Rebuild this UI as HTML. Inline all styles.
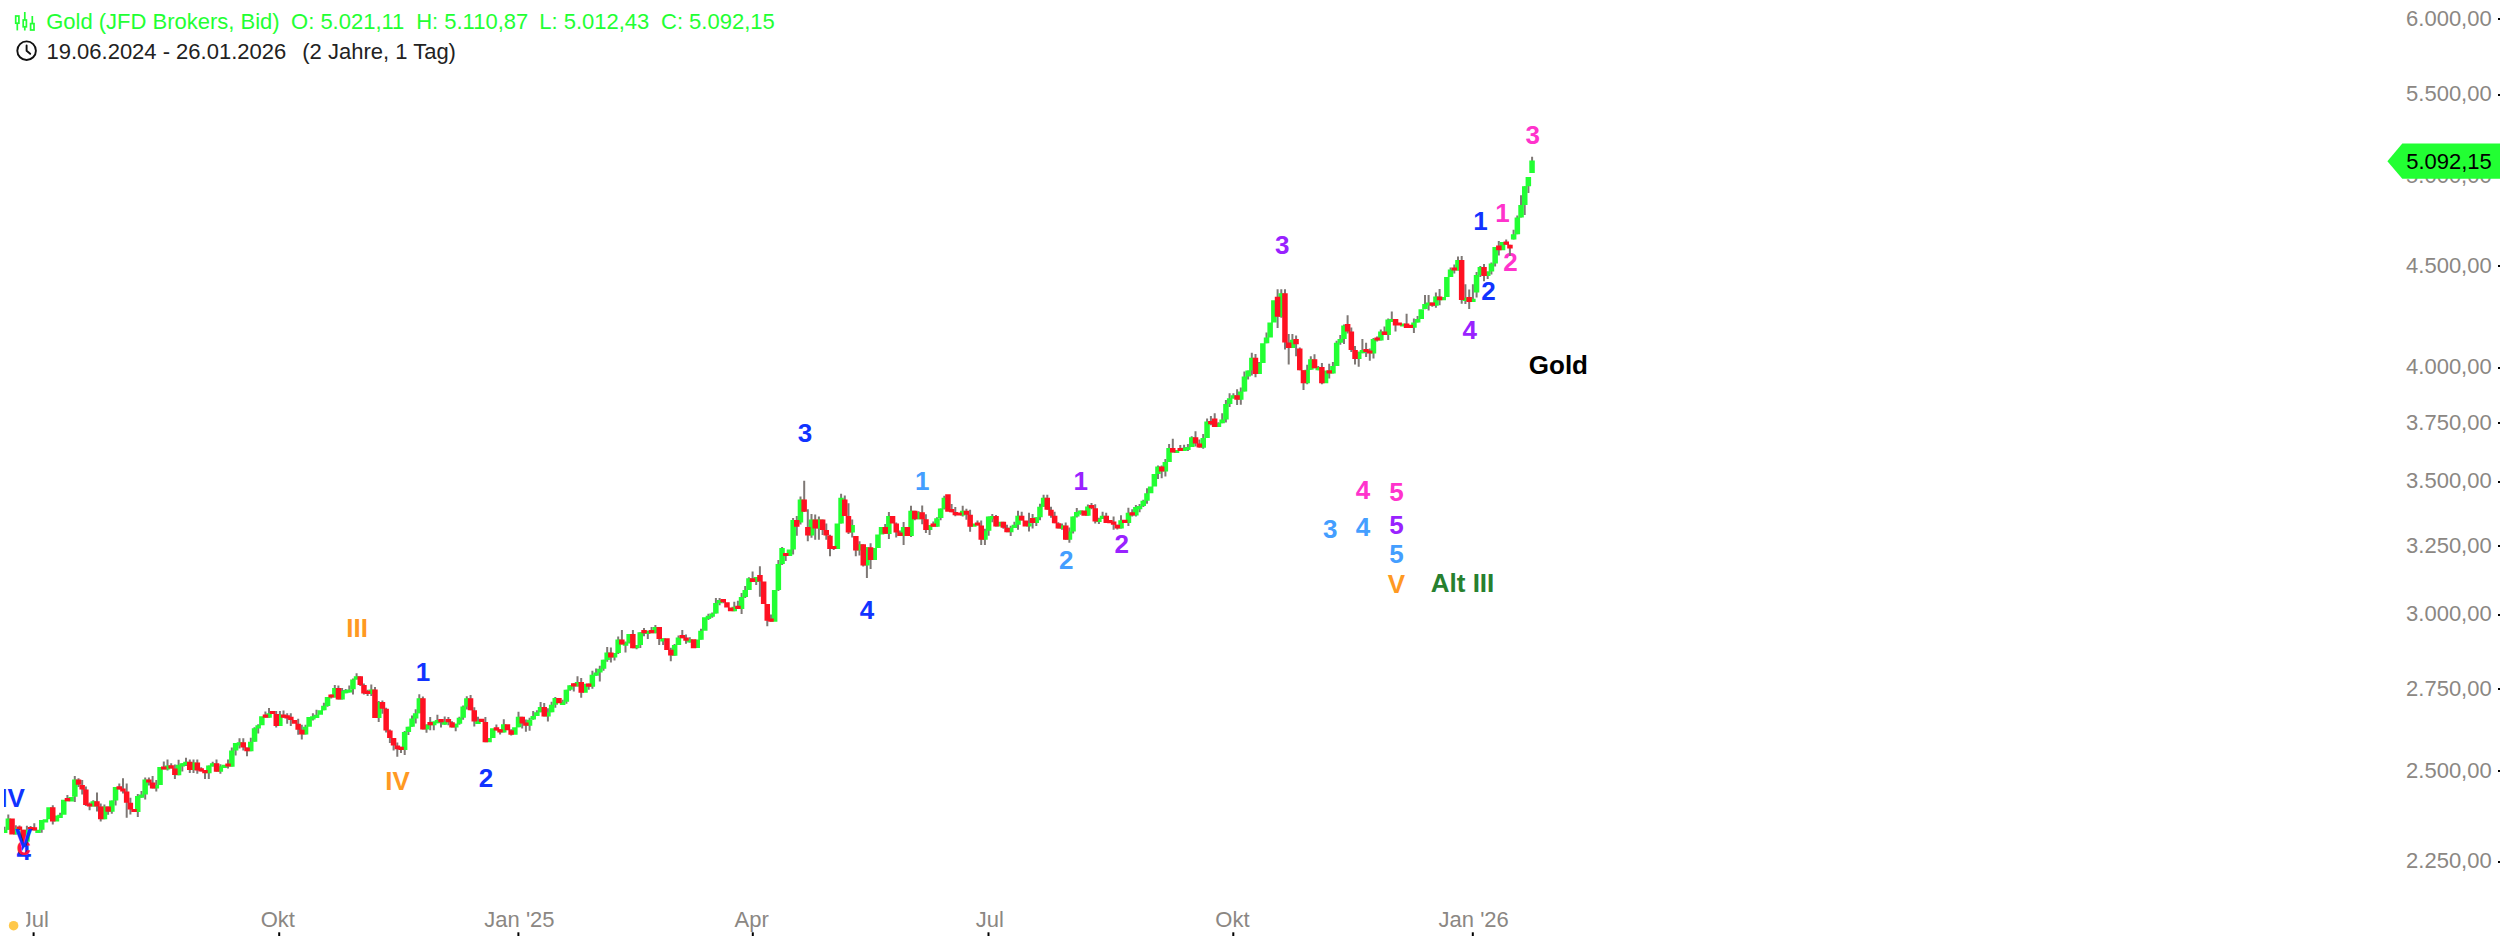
<!DOCTYPE html>
<html lang="de"><head><meta charset="utf-8"><title>Gold (JFD Brokers, Bid)</title>
<style>html,body{margin:0;padding:0;background:#fff}body{width:2500px;height:936px}svg{display:block}text{white-space:pre}</style></head>
<body><svg width="2500" height="936" viewBox="0 0 2500 936">
<defs><clipPath id="cl"><rect x="4" y="0" width="2496" height="936"/></clipPath></defs>
<rect width="2500" height="936" fill="#fff"/>
<g font-family="'Liberation Sans', Arial, Helvetica, sans-serif" font-size="26" font-weight="bold" text-anchor="middle" clip-path="url(#cl)"><text x="1510.45" y="270.75" fill="#ff33cc">2</text></g>
<g clip-path="url(#cl)"><path d="M4.6 826.8V833.0M8.3 814.5V829.8M15.8 825.3V834.6M19.5 825.6V829.8M23.2 829.8V844.7M26.9 825.8V841.7M30.6 825.9V830.1M34.3 823.3V830.5M41.7 820.0V832.8M52.8 805.3V824.5M60.1 812.8V818.0M67.4 795.1V801.3M74.8 775.9V801.9M78.5 778.2V786.9M82.2 779.9V794.4M85.9 786.4V806.1M89.6 802.4V810.3M93.3 800.3V806.6M97.0 792.4V811.6M100.7 803.6V821.5M104.4 804.6V819.3M108.1 806.6V814.8M111.8 800.6V813.8M115.6 787.1V805.6M119.3 783.4V789.4M123.0 778.2V793.6M126.7 783.4V817.8M130.4 797.8V814.6M137.8 794.1V817.1M141.5 790.9V797.8M145.2 777.6V799.6M148.9 777.4V785.6M152.6 775.9V788.6M156.3 779.9V791.6M163.8 761.4V769.6M167.5 759.4V770.6M171.2 763.2V768.4M174.9 764.4V778.9M178.6 759.7V775.2M182.3 763.2V771.4M186.0 757.7V765.9M189.8 759.4V772.9M193.5 759.4V772.9M197.3 759.4V773.7M201.2 767.2V771.4M205.0 770.0V778.9M208.8 765.4V778.9M212.7 761.7V766.4M216.5 759.4V771.7M220.4 764.2V773.7M228.0 759.4V768.6M231.8 747.5V766.6M235.6 743.0V755.5M239.5 738.2V748.4M243.3 738.2V750.5M247.0 747.5V756.2M250.8 737.7V751.2M254.5 727.3V741.7M258.2 724.3V733.5M265.4 711.6V717.8M269.0 708.1V717.8M276.2 711.1V727.5M279.9 711.1V726.0M283.5 710.6V717.8M287.2 713.3V723.8M290.8 713.3V726.0M298.2 718.8V734.8M301.8 724.8V739.6M305.5 724.8V734.6M312.9 713.3V720.5M316.5 709.8V718.0M323.9 702.8V710.3M327.5 696.9V706.8M331.2 694.4V698.6M334.8 684.9V697.6M338.4 685.6V699.5M342.1 687.9V699.5M345.7 689.1V693.3M349.3 685.4V692.6M353.0 678.6V694.4M356.6 673.2V679.6M360.3 676.2V685.9M363.9 683.4V694.6M367.6 689.7V695.9M371.3 684.4V695.9M375.0 687.1V718.1M378.7 701.1V722.0M382.4 700.6V713.8M386.1 707.8V732.5M389.9 729.5V743.0M393.6 738.0V750.5M397.3 742.5V756.7M401.0 746.8V753.0M404.7 731.0V755.0M408.4 726.8V735.0M412.0 715.5V726.8M415.7 709.3V723.5M419.3 694.3V713.3M422.9 696.6V729.5M426.5 724.5V732.8M430.2 717.0V730.3M433.8 721.5V730.3M437.4 714.8V723.2M441.0 719.1V727.5M444.7 716.6V724.7M448.4 717.0V725.3M452.0 721.3V727.5M455.7 723.8V731.3M459.4 716.8V724.8M463.1 705.6V719.8M466.8 696.3V709.6M470.6 695.1V710.3M474.3 707.3V726.5M478.0 716.8V724.0M485.4 717.0V742.2M496.4 724.5V730.5M500.1 729.2V734.4M503.8 719.2V732.4M511.2 729.2V735.6M518.5 711.7V727.2M522.2 716.7V728.4M525.9 719.5V731.7M529.6 717.7V730.7M533.2 710.9V719.7M536.9 710.2V715.9M540.6 702.0V712.2M544.2 703.0V716.4M547.9 708.2V721.4M551.6 701.7V712.2M555.3 697.0V707.7M562.7 699.7V704.9M566.4 689.8V703.7M570.1 685.3V690.8M573.8 683.3V691.5M577.5 676.3V686.5M581.2 678.0V697.8M588.7 683.6V689.8M592.4 670.8V688.8M596.1 668.6V675.8M599.8 665.8V681.5M603.5 659.8V670.8M607.2 647.1V661.8M610.9 647.4V662.6M614.5 653.1V660.6M618.2 636.6V654.1M621.9 629.9V644.6M625.5 641.6V652.4M629.2 634.1V643.6M632.9 629.9V648.2M636.6 644.9V649.2M640.3 632.2V647.9M644.0 628.0V636.2M647.8 630.7V638.9M651.6 627.0V633.2M655.4 624.9V633.2M659.2 626.9V644.9M663.1 638.2V644.9M670.8 647.8V661.3M674.6 643.9V655.7M678.5 635.4V644.9M682.3 630.0V638.2M686.0 634.5V643.7M689.8 637.2V642.4M701.0 628.7V639.6M708.4 613.7V619.9M712.2 612.5V617.7M715.9 598.0V613.5M719.6 598.0V605.2M723.3 599.0V603.2M734.3 601.7V611.2M737.9 600.8V609.0M741.6 593.1V614.0M745.2 586.0V598.1M748.9 577.3V590.0M752.6 571.5V581.9M756.2 577.0V584.9M759.9 566.2V596.7M767.3 604.1V626.3M771.0 614.5V621.7M778.4 559.9V591.0M782.1 547.1V564.9M785.7 553.0V561.0M793.1 518.1V554.6M796.8 515.9V535.7M800.5 496.4V524.6M804.2 480.7V511.9M807.8 509.2V541.3M811.5 514.0V537.7M815.2 514.4V539.8M818.9 516.6V539.8M822.6 519.6V535.1M826.3 523.4V539.8M830.0 534.7V556.3M833.7 545.9V550.1M841.1 493.7V523.4M844.8 495.4V515.9M848.5 503.2V533.9M852.2 519.6V537.6M855.8 536.1V556.3M859.5 541.3V555.6M863.2 544.3V566.6M866.9 547.3V578.0M870.6 543.3V569.0M885.2 524.1V533.9M888.9 511.9V538.9M896.2 522.4V537.4M899.9 530.4V536.1M903.6 522.1V545.1M911.0 505.7V537.1M914.8 510.7V520.2M918.5 511.2V519.2M922.2 505.4V524.2M925.9 514.2V533.1M929.6 524.9V535.1M933.3 521.5V526.7M937.0 517.2V526.7M940.6 508.4V520.2M944.3 495.7V509.4M951.6 504.0V512.2M955.3 507.0V516.2M962.7 505.7V516.6M966.4 508.7V519.7M970.1 509.7V531.7M977.5 520.4V525.6M981.2 520.6V544.9M984.9 528.7V544.9M988.6 516.5V535.7M992.3 514.1V522.3M996.0 515.1V526.5M1003.4 521.7V528.7M1007.0 524.7V532.2M1010.7 525.7V535.9M1014.4 521.7V527.9M1018.0 510.8V529.7M1021.7 511.8V520.5M1029.0 512.8V531.5M1032.6 514.0V528.5M1036.3 517.2V525.9M1040.0 503.8V520.2M1043.6 494.8V506.8M1047.3 494.8V509.8M1051.0 506.8V517.8M1054.6 511.8V523.2M1058.3 522.2V528.5M1062.0 523.5V529.7M1065.7 522.5V539.7M1069.4 527.5V542.7M1073.1 516.5V533.5M1076.8 508.0V517.5M1080.5 510.5V514.7M1087.9 504.5V515.8M1091.5 503.0V509.3M1095.2 504.3V523.4M1098.9 517.7V523.9M1102.6 511.8V519.0M1106.2 512.8V522.9M1113.6 516.5V529.7M1117.3 524.7V529.5M1121.0 515.2V528.5M1128.4 507.8V525.9M1132.2 509.3V516.5M1135.9 505.1V516.5M1139.6 504.0V512.2M1143.3 499.8V507.0M1147.0 488.3V503.8M1158.0 465.4V478.9M1161.7 465.4V478.3M1165.4 458.9V476.6M1169.1 444.1V461.9M1172.8 438.7V452.6M1180.3 444.9V451.1M1184.1 444.7V451.1M1187.9 443.9V451.1M1191.7 436.2V446.9M1195.5 431.2V446.6M1199.4 439.6V447.7M1203.2 434.0V448.7M1207.1 418.5V438.0M1210.9 416.1V425.3M1214.7 413.2V427.1M1218.4 422.3V427.1M1222.2 413.2V423.3M1225.9 399.9V422.4M1229.6 393.2V406.9M1233.4 393.2V398.4M1237.1 389.2V404.9M1240.8 387.5V404.7M1244.4 371.5V391.5M1248.1 370.5V379.5M1251.8 352.8V375.5M1255.5 354.1V377.2M1259.1 362.0V374.0M1266.5 332.6V343.3M1277.6 289.3V327.9M1281.3 289.3V317.7M1285.0 289.3V349.6M1288.7 333.9V364.5M1292.4 333.9V348.1M1296.1 335.4V356.3M1299.8 347.5V370.2M1303.5 370.2V390.0M1307.2 364.8V384.2M1310.8 356.3V369.8M1314.5 354.3V368.3M1318.2 366.1V370.3M1321.9 363.1V384.2M1329.2 363.8V378.5M1332.9 362.0V373.5M1336.6 340.8V366.0M1340.3 335.1V344.8M1344.0 324.6V344.1M1347.6 315.2V333.6M1351.3 327.6V352.0M1355.0 346.0V364.5M1358.7 351.8V366.8M1362.4 339.1V353.2M1366.1 342.8V357.0M1369.8 348.4V360.8M1373.5 338.1V358.6M1377.1 336.4V341.6M1380.8 329.6V340.6M1384.5 326.6V335.1M1388.2 318.6V340.1M1391.8 311.4V322.1M1395.5 318.9V331.6M1406.6 313.7V327.9M1413.9 318.6V332.9M1417.6 315.9V322.6M1425.0 295.0V309.2M1428.6 295.0V310.6M1432.3 302.4V306.7M1435.9 292.5V307.7M1439.6 289.0V305.2M1450.6 267.4V276.9M1454.3 264.4V273.6M1458.0 256.4V270.6M1461.7 256.1V303.8M1465.4 284.3V304.0M1469.2 289.6V309.0M1472.9 284.3V302.0M1476.6 272.1V297.6M1480.3 266.1V277.1M1484.0 264.1V281.3M1487.7 271.6V279.1M1491.4 262.4V274.6M1495.1 246.9V266.4M1498.8 240.9V255.4M1506.2 239.5V244.7M1509.9 244.7V255.9M1513.6 229.7V239.4M1517.3 215.5V234.2M1521.0 195.3V217.4M1524.7 186.3V215.0M1528.4 177.0V193.0M1532.1 156.7V172.8" stroke="#7e7875" stroke-width="2" fill="none"/><path d="M1.9 829.8h5.5v3.2h-5.5zM5.6 818.5h5.5v11.2h-5.5zM13.0 828.3h5.5v6.3h-5.5zM24.2 829.8h5.5v12.0h-5.5zM35.3 829.8h5.5v3.2h-5.5zM39.0 820.0h5.5v9.7h-5.5zM42.7 819.3h5.5v3.2h-5.5zM46.3 807.3h5.5v12.0h-5.5zM53.7 815.6h5.5v6.0h-5.5zM57.3 814.8h5.5v3.2h-5.5zM61.0 799.8h5.5v15.0h-5.5zM68.4 796.9h5.5v4.5h-5.5zM72.1 779.6h5.5v17.2h-5.5zM90.5 801.3h5.5v5.2h-5.5zM101.7 806.6h5.5v12.7h-5.5zM109.1 800.6h5.5v11.2h-5.5zM112.8 787.1h5.5v13.5h-5.5zM135.0 796.1h5.5v16.0h-5.5zM138.7 794.6h5.5v3.2h-5.5zM142.4 779.6h5.5v15.0h-5.5zM153.6 784.9h5.5v3.7h-5.5zM157.3 766.9h5.5v18.0h-5.5zM164.7 765.4h5.5v4.2h-5.5zM175.8 764.7h5.5v10.5h-5.5zM179.5 763.2h5.5v3.2h-5.5zM183.2 761.7h5.5v3.2h-5.5zM190.8 762.4h5.5v7.5h-5.5zM206.1 765.4h5.5v7.8h-5.5zM209.9 763.2h5.5v3.2h-5.5zM217.6 766.2h5.5v5.5h-5.5zM221.4 764.7h5.5v3.2h-5.5zM229.1 750.5h5.5v16.2h-5.5zM232.9 743.0h5.5v7.5h-5.5zM236.7 742.2h5.5v3.2h-5.5zM248.0 741.7h5.5v9.5h-5.5zM251.8 728.3h5.5v13.5h-5.5zM255.4 725.3h5.5v3.2h-5.5zM259.1 716.3h5.5v9.0h-5.5zM266.3 713.3h5.5v4.5h-5.5zM277.1 714.8h5.5v11.2h-5.5zM302.8 726.8h5.5v7.8h-5.5zM306.4 717.0h5.5v9.7h-5.5zM310.1 716.3h5.5v3.2h-5.5zM313.8 714.8h5.5v3.2h-5.5zM317.5 710.3h5.5v4.5h-5.5zM321.1 705.8h5.5v4.5h-5.5zM324.8 696.9h5.5v9.0h-5.5zM332.1 687.9h5.5v9.7h-5.5zM339.3 690.9h5.5v8.7h-5.5zM342.9 690.1h5.5v3.2h-5.5zM346.6 689.4h5.5v3.2h-5.5zM350.2 679.6h5.5v9.7h-5.5zM353.8 676.2h5.5v3.4h-5.5zM368.5 689.4h5.5v4.5h-5.5zM376.0 702.1h5.5v16.0h-5.5zM401.9 732.0h5.5v18.0h-5.5zM405.6 726.8h5.5v5.2h-5.5zM409.3 718.5h5.5v8.2h-5.5zM412.9 713.3h5.5v5.2h-5.5zM416.6 698.3h5.5v15.0h-5.5zM423.8 724.5h5.5v4.9h-5.5zM431.0 721.5h5.5v3.7h-5.5zM434.7 720.0h5.5v3.2h-5.5zM441.9 721.5h5.5v3.2h-5.5zM453.0 723.8h5.5v3.7h-5.5zM456.7 717.8h5.5v6.0h-5.5zM460.4 706.6h5.5v11.2h-5.5zM464.1 698.3h5.5v8.2h-5.5zM475.2 720.8h5.5v3.2h-5.5zM486.3 738.0h5.5v4.2h-5.5zM490.0 728.3h5.5v9.7h-5.5zM501.0 724.2h5.5v8.2h-5.5zM512.1 727.2h5.5v7.5h-5.5zM515.8 716.7h5.5v10.5h-5.5zM526.8 719.7h5.5v6.0h-5.5zM530.5 715.9h5.5v3.7h-5.5zM534.1 712.2h5.5v3.7h-5.5zM537.8 707.0h5.5v5.2h-5.5zM545.2 712.2h5.5v4.2h-5.5zM548.9 704.7h5.5v7.5h-5.5zM552.5 698.0h5.5v6.7h-5.5zM559.9 701.7h5.5v3.2h-5.5zM563.6 689.8h5.5v12.0h-5.5zM567.3 685.3h5.5v4.5h-5.5zM574.8 682.0h5.5v4.5h-5.5zM582.2 683.8h5.5v9.0h-5.5zM589.6 674.8h5.5v12.0h-5.5zM593.4 672.6h5.5v3.2h-5.5zM597.1 668.8h5.5v3.7h-5.5zM600.8 659.8h5.5v9.0h-5.5zM604.4 652.4h5.5v7.5h-5.5zM611.8 653.1h5.5v4.5h-5.5zM615.4 639.6h5.5v13.5h-5.5zM622.8 642.6h5.5v3.2h-5.5zM626.4 634.1h5.5v8.5h-5.5zM633.8 644.9h5.5v3.3h-5.5zM637.5 632.2h5.5v12.7h-5.5zM645.0 630.7h5.5v3.2h-5.5zM652.6 626.9h5.5v6.3h-5.5zM660.3 638.2h5.5v3.2h-5.5zM671.9 644.9h5.5v10.8h-5.5zM675.7 637.4h5.5v7.5h-5.5zM687.1 639.2h5.5v3.2h-5.5zM694.5 639.6h5.5v8.5h-5.5zM698.2 630.7h5.5v9.0h-5.5zM702.0 617.2h5.5v13.5h-5.5zM705.7 615.7h5.5v3.2h-5.5zM709.4 613.5h5.5v3.2h-5.5zM713.1 603.0h5.5v10.5h-5.5zM716.8 600.0h5.5v3.2h-5.5zM731.5 606.7h5.5v4.5h-5.5zM738.8 597.1h5.5v11.9h-5.5zM742.5 590.0h5.5v7.1h-5.5zM746.2 578.3h5.5v11.7h-5.5zM753.5 577.0h5.5v4.9h-5.5zM771.9 590.0h5.5v31.7h-5.5zM775.6 563.9h5.5v26.1h-5.5zM779.3 548.1h5.5v15.8h-5.5zM786.7 549.6h5.5v6.4h-5.5zM790.4 520.1h5.5v29.5h-5.5zM797.7 499.4h5.5v23.2h-5.5zM808.8 519.6h5.5v16.0h-5.5zM816.2 519.6h5.5v9.0h-5.5zM834.6 523.4h5.5v25.7h-5.5zM838.3 497.7h5.5v25.7h-5.5zM849.4 524.9h5.5v7.5h-5.5zM856.8 544.3h5.5v6.3h-5.5zM864.1 547.3h5.5v18.3h-5.5zM871.5 548.1h5.5v12.0h-5.5zM875.2 534.6h5.5v13.5h-5.5zM878.8 527.1h5.5v7.5h-5.5zM886.1 515.9h5.5v18.0h-5.5zM900.9 527.1h5.5v9.0h-5.5zM908.3 510.7h5.5v25.4h-5.5zM915.7 512.2h5.5v7.0h-5.5zM926.9 524.9h5.5v5.2h-5.5zM934.2 518.2h5.5v8.5h-5.5zM937.9 508.4h5.5v9.7h-5.5zM941.6 497.7h5.5v10.8h-5.5zM960.0 510.7h5.5v4.9h-5.5zM971.1 523.4h5.5v3.3h-5.5zM982.2 530.7h5.5v9.0h-5.5zM985.9 516.5h5.5v14.2h-5.5zM989.6 516.1h5.5v3.2h-5.5zM996.9 521.7h5.5v4.8h-5.5zM1008.0 527.7h5.5v4.5h-5.5zM1011.6 524.7h5.5v3.2h-5.5zM1015.3 515.8h5.5v9.0h-5.5zM1026.2 523.2h5.5v3.3h-5.5zM1033.5 517.2h5.5v5.7h-5.5zM1037.2 506.8h5.5v10.5h-5.5zM1040.9 497.8h5.5v9.0h-5.5zM1059.3 525.5h5.5v3.2h-5.5zM1066.7 531.5h5.5v8.2h-5.5zM1070.3 516.5h5.5v15.0h-5.5zM1074.0 512.0h5.5v4.5h-5.5zM1077.7 510.5h5.5v3.2h-5.5zM1085.1 506.5h5.5v9.3h-5.5zM1096.1 518.7h5.5v3.2h-5.5zM1099.8 515.8h5.5v3.2h-5.5zM1118.3 520.2h5.5v8.2h-5.5zM1125.7 512.8h5.5v10.2h-5.5zM1133.1 507.1h5.5v8.4h-5.5zM1136.8 506.0h5.5v3.2h-5.5zM1140.5 500.8h5.5v5.2h-5.5zM1144.2 493.3h5.5v7.5h-5.5zM1147.9 486.6h5.5v6.7h-5.5zM1151.6 473.9h5.5v12.7h-5.5zM1155.2 466.4h5.5v7.5h-5.5zM1162.6 461.9h5.5v9.7h-5.5zM1166.3 448.1h5.5v13.8h-5.5zM1173.8 449.9h5.5v3.2h-5.5zM1181.3 447.7h5.5v3.4h-5.5zM1185.1 446.9h5.5v3.2h-5.5zM1189.0 437.2h5.5v9.7h-5.5zM1200.5 438.0h5.5v9.7h-5.5zM1204.3 421.5h5.5v16.5h-5.5zM1215.7 423.3h5.5v3.8h-5.5zM1219.4 419.4h5.5v3.8h-5.5zM1223.2 403.9h5.5v15.6h-5.5zM1226.9 398.2h5.5v5.7h-5.5zM1230.6 395.2h5.5v3.2h-5.5zM1238.0 391.5h5.5v8.2h-5.5zM1241.7 376.5h5.5v15.0h-5.5zM1245.4 370.5h5.5v6.0h-5.5zM1249.1 357.8h5.5v12.7h-5.5zM1256.4 363.0h5.5v10.9h-5.5zM1260.1 343.3h5.5v19.7h-5.5zM1263.8 337.6h5.5v5.7h-5.5zM1267.4 322.6h5.5v15.0h-5.5zM1271.1 300.2h5.5v22.4h-5.5zM1278.5 293.2h5.5v23.5h-5.5zM1289.6 339.8h5.5v8.2h-5.5zM1304.4 369.8h5.5v13.5h-5.5zM1308.1 359.3h5.5v10.5h-5.5zM1315.5 367.1h5.5v3.2h-5.5zM1322.8 370.5h5.5v12.7h-5.5zM1330.2 366.0h5.5v7.5h-5.5zM1333.9 342.8h5.5v23.2h-5.5zM1337.5 339.1h5.5v3.7h-5.5zM1341.2 325.6h5.5v13.5h-5.5zM1356.0 351.8h5.5v7.2h-5.5zM1359.7 350.0h5.5v3.2h-5.5zM1370.7 339.1h5.5v14.5h-5.5zM1378.1 331.6h5.5v9.0h-5.5zM1385.4 319.6h5.5v15.4h-5.5zM1389.1 318.9h5.5v3.2h-5.5zM1400.1 323.4h5.5v3.2h-5.5zM1411.2 322.6h5.5v5.2h-5.5zM1414.9 318.9h5.5v3.7h-5.5zM1418.5 309.2h5.5v9.7h-5.5zM1422.2 303.9h5.5v5.2h-5.5zM1425.9 302.4h5.5v3.2h-5.5zM1433.2 296.5h5.5v9.3h-5.5zM1440.5 297.0h5.5v3.2h-5.5zM1444.1 276.9h5.5v20.2h-5.5zM1447.8 269.4h5.5v7.5h-5.5zM1455.2 260.1h5.5v10.5h-5.5zM1462.7 297.8h5.5v3.2h-5.5zM1470.1 298.8h5.5v3.2h-5.5zM1473.8 275.1h5.5v17.5h-5.5zM1477.6 267.1h5.5v7.9h-5.5zM1485.0 271.6h5.5v4.5h-5.5zM1488.7 263.4h5.5v8.2h-5.5zM1492.4 246.9h5.5v16.5h-5.5zM1499.8 242.1h5.5v8.2h-5.5zM1510.9 234.2h5.5v5.2h-5.5zM1514.6 217.4h5.5v16.8h-5.5zM1518.3 205.0h5.5v12.4h-5.5zM1522.0 186.3h5.5v18.7h-5.5zM1525.6 177.0h5.5v9.3h-5.5zM1529.3 160.6h5.5v12.3h-5.5z" fill="#22ff33"/><path d="M9.3 818.5h5.5v16.0h-5.5zM16.7 826.6h5.5v3.2h-5.5zM20.4 829.8h5.5v12.0h-5.5zM27.9 826.9h5.5v3.2h-5.5zM31.6 827.3h5.5v3.2h-5.5zM50.0 807.3h5.5v14.2h-5.5zM64.7 798.1h5.5v3.2h-5.5zM75.8 779.6h5.5v5.2h-5.5zM79.4 784.9h5.5v4.5h-5.5zM83.1 789.4h5.5v15.7h-5.5zM86.8 803.4h5.5v3.2h-5.5zM94.2 801.3h5.5v5.2h-5.5zM98.0 806.6h5.5v12.7h-5.5zM105.4 806.6h5.5v5.2h-5.5zM116.5 786.2h5.5v3.2h-5.5zM120.2 788.4h5.5v3.2h-5.5zM123.9 791.6h5.5v11.2h-5.5zM127.6 802.8h5.5v6.7h-5.5zM131.3 808.9h5.5v3.2h-5.5zM146.1 779.4h5.5v3.2h-5.5zM149.9 782.6h5.5v6.0h-5.5zM161.0 766.4h5.5v3.2h-5.5zM168.4 765.2h5.5v3.2h-5.5zM172.1 768.4h5.5v6.7h-5.5zM187.0 761.7h5.5v8.2h-5.5zM194.6 762.4h5.5v8.2h-5.5zM198.4 768.2h5.5v3.2h-5.5zM202.2 770.0h5.5v3.2h-5.5zM213.8 763.2h5.5v8.5h-5.5zM225.3 763.4h5.5v3.2h-5.5zM240.5 742.2h5.5v5.2h-5.5zM244.3 747.5h5.5v3.7h-5.5zM262.7 714.6h5.5v3.2h-5.5zM269.9 710.9h5.5v3.2h-5.5zM273.5 714.1h5.5v12.0h-5.5zM280.8 714.6h5.5v3.2h-5.5zM284.4 715.3h5.5v3.2h-5.5zM288.1 716.8h5.5v3.2h-5.5zM291.8 720.0h5.5v3.7h-5.5zM295.4 723.8h5.5v6.0h-5.5zM299.1 729.8h5.5v4.8h-5.5zM328.4 694.4h5.5v3.2h-5.5zM335.7 687.9h5.5v11.7h-5.5zM357.5 676.2h5.5v8.7h-5.5zM361.2 684.9h5.5v8.7h-5.5zM364.8 690.7h5.5v3.2h-5.5zM372.2 689.4h5.5v28.7h-5.5zM379.7 702.1h5.5v6.7h-5.5zM383.4 708.8h5.5v21.7h-5.5zM387.1 730.5h5.5v7.5h-5.5zM390.8 738.0h5.5v7.5h-5.5zM394.6 745.5h5.5v3.7h-5.5zM398.3 746.8h5.5v3.2h-5.5zM420.2 698.3h5.5v31.1h-5.5zM427.4 722.1h5.5v3.2h-5.5zM438.3 719.1h5.5v3.2h-5.5zM445.6 719.1h5.5v3.2h-5.5zM449.3 722.3h5.5v5.2h-5.5zM467.8 698.3h5.5v12.0h-5.5zM471.5 710.3h5.5v11.2h-5.5zM478.9 718.8h5.5v3.2h-5.5zM482.6 722.0h5.5v20.2h-5.5zM493.7 727.3h5.5v3.2h-5.5zM497.3 729.2h5.5v3.2h-5.5zM504.7 724.2h5.5v6.0h-5.5zM508.4 730.2h5.5v4.5h-5.5zM519.5 716.7h5.5v6.7h-5.5zM523.1 722.5h5.5v3.2h-5.5zM541.5 707.0h5.5v9.4h-5.5zM556.2 698.0h5.5v5.2h-5.5zM571.0 683.3h5.5v3.2h-5.5zM578.5 682.0h5.5v10.8h-5.5zM585.9 683.6h5.5v3.2h-5.5zM608.1 652.4h5.5v5.2h-5.5zM619.1 639.6h5.5v4.9h-5.5zM630.1 634.1h5.5v14.1h-5.5zM641.3 630.0h5.5v3.2h-5.5zM648.8 630.0h5.5v3.2h-5.5zM656.5 626.9h5.5v12.0h-5.5zM664.2 638.2h5.5v11.7h-5.5zM668.1 649.8h5.5v5.8h-5.5zM679.5 635.0h5.5v3.2h-5.5zM683.3 637.5h5.5v3.2h-5.5zM690.8 639.2h5.5v9.0h-5.5zM720.5 599.0h5.5v3.2h-5.5zM724.2 602.2h5.5v5.2h-5.5zM727.9 607.5h5.5v3.7h-5.5zM735.2 605.8h5.5v3.2h-5.5zM749.8 578.3h5.5v3.6h-5.5zM757.2 574.9h5.5v6.7h-5.5zM760.9 581.6h5.5v22.5h-5.5zM764.5 604.1h5.5v16.6h-5.5zM768.2 618.5h5.5v3.2h-5.5zM783.0 553.0h5.5v3.0h-5.5zM794.0 520.1h5.5v6.6h-5.5zM801.4 499.4h5.5v12.4h-5.5zM805.1 527.1h5.5v8.5h-5.5zM812.5 519.6h5.5v9.0h-5.5zM819.9 519.6h5.5v10.5h-5.5zM823.5 530.1h5.5v5.5h-5.5zM827.2 535.7h5.5v13.2h-5.5zM830.9 545.9h5.5v3.2h-5.5zM842.0 499.4h5.5v16.5h-5.5zM845.7 515.9h5.5v16.5h-5.5zM853.1 536.1h5.5v14.5h-5.5zM860.5 544.3h5.5v21.2h-5.5zM867.8 547.3h5.5v12.7h-5.5zM882.5 527.1h5.5v6.7h-5.5zM889.8 515.9h5.5v7.5h-5.5zM893.5 523.4h5.5v9.0h-5.5zM897.2 532.4h5.5v3.7h-5.5zM904.6 527.1h5.5v9.0h-5.5zM912.0 510.7h5.5v8.5h-5.5zM919.4 512.2h5.5v7.0h-5.5zM923.2 519.2h5.5v10.9h-5.5zM930.5 523.5h5.5v3.2h-5.5zM945.2 494.2h5.5v17.5h-5.5zM948.9 509.0h5.5v3.2h-5.5zM952.6 512.0h5.5v3.2h-5.5zM956.3 512.4h5.5v3.2h-5.5zM963.7 510.7h5.5v4.0h-5.5zM967.4 514.7h5.5v12.0h-5.5zM974.8 522.4h5.5v3.2h-5.5zM978.5 525.6h5.5v14.1h-5.5zM993.3 516.1h5.5v10.5h-5.5zM1000.6 521.7h5.5v6.0h-5.5zM1004.3 527.7h5.5v4.5h-5.5zM1018.9 515.8h5.5v4.8h-5.5zM1022.6 520.5h5.5v6.0h-5.5zM1029.9 518.0h5.5v4.9h-5.5zM1044.5 497.8h5.5v12.0h-5.5zM1048.2 509.8h5.5v6.0h-5.5zM1051.9 515.8h5.5v7.5h-5.5zM1055.6 523.2h5.5v5.2h-5.5zM1063.0 525.5h5.5v14.2h-5.5zM1081.4 510.5h5.5v5.2h-5.5zM1088.8 505.1h5.5v3.2h-5.5zM1092.5 508.3h5.5v13.2h-5.5zM1103.5 515.8h5.5v7.2h-5.5zM1107.2 520.0h5.5v3.2h-5.5zM1110.9 521.5h5.5v3.2h-5.5zM1114.6 524.7h5.5v3.7h-5.5zM1122.0 519.7h5.5v3.2h-5.5zM1129.4 512.3h5.5v3.2h-5.5zM1158.9 466.4h5.5v5.2h-5.5zM1170.0 448.1h5.5v4.5h-5.5zM1177.5 447.9h5.5v3.2h-5.5zM1192.8 437.2h5.5v6.4h-5.5zM1196.6 443.6h5.5v4.0h-5.5zM1208.1 421.1h5.5v3.2h-5.5zM1211.9 418.4h5.5v8.7h-5.5zM1234.3 395.2h5.5v4.5h-5.5zM1252.7 357.8h5.5v16.2h-5.5zM1274.8 296.8h5.5v19.9h-5.5zM1282.2 293.2h5.5v49.4h-5.5zM1285.9 342.5h5.5v5.5h-5.5zM1293.3 339.1h5.5v5.2h-5.5zM1297.0 348.5h5.5v21.7h-5.5zM1300.7 370.2h5.5v13.0h-5.5zM1311.8 359.3h5.5v9.0h-5.5zM1319.1 367.1h5.5v16.2h-5.5zM1326.5 370.3h5.5v3.2h-5.5zM1344.9 324.1h5.5v7.5h-5.5zM1348.6 331.6h5.5v18.4h-5.5zM1352.3 350.0h5.5v9.0h-5.5zM1363.3 348.9h5.5v3.2h-5.5zM1367.0 350.4h5.5v3.2h-5.5zM1374.4 337.4h5.5v3.2h-5.5zM1381.7 331.6h5.5v3.4h-5.5zM1392.8 318.9h5.5v6.7h-5.5zM1396.4 322.4h5.5v3.2h-5.5zM1403.8 323.4h5.5v4.5h-5.5zM1407.5 324.7h5.5v3.2h-5.5zM1429.5 302.4h5.5v3.3h-5.5zM1436.8 296.5h5.5v3.7h-5.5zM1451.5 267.4h5.5v3.2h-5.5zM1458.9 260.1h5.5v39.9h-5.5zM1466.4 297.0h5.5v4.9h-5.5zM1481.3 267.1h5.5v9.0h-5.5zM1496.1 245.4h5.5v4.9h-5.5zM1503.5 241.5h5.5v3.2h-5.5zM1507.2 244.7h5.5v3.7h-5.5z" fill="#ff1122"/></g>
<g font-family="'Liberation Sans', Arial, Helvetica, sans-serif">
<text transform="translate(46.20,29.30) scale(1,1.04)" font-size="22" fill="#22ff33">Gold (JFD Brokers, Bid)</text>
<text transform="translate(291.05,29.30) scale(1,1.04)" font-size="22" fill="#22ff33">O: 5.021,11</text>
<text transform="translate(416.15,29.30) scale(1,1.04)" font-size="22" fill="#22ff33">H: 5.110,87</text>
<text transform="translate(539.25,29.30) scale(1,1.04)" font-size="22" fill="#22ff33">L: 5.012,43</text>
<text transform="translate(661.00,29.30) scale(1,1.04)" font-size="22" fill="#22ff33">C: 5.092,15</text>
<text transform="translate(46.50,58.60) scale(1,1.04)" font-size="22" fill="#222222">19.06.2024 - 26.01.2026</text>
<text transform="translate(302.30,58.60) scale(1,1.04)" font-size="22" fill="#222222">(2 Jahre, 1 Tag)</text>
</g>
<g fill="none" stroke="#22ff33" stroke-width="1.7">
<rect x="15.7" y="16" width="3.2" height="7.2"/><path d="M17.3 23.2V30.4"/>
<rect x="23.2" y="20" width="3.2" height="6.8"/><path d="M24.8 12V20M24.8 26.8V30.4"/>
<rect x="30.6" y="23.6" width="3.4" height="6.4"/><path d="M32.3 16V23.6"/>
</g>
<g fill="none" stroke="#111" stroke-width="1.9" stroke-linecap="round" stroke-linejoin="round"><circle cx="26.6" cy="50.7" r="9.3"/><path d="M26.6 45.4V50.7L30.2 53.8"/></g>
<g font-family="'Liberation Sans', Arial, Helvetica, sans-serif">
<text transform="translate(2491.70,26.00) scale(1,1.04)" font-size="22" text-anchor="end" fill="#8b8783">6.000,00</text>
<text transform="translate(2491.70,101.45) scale(1,1.04)" font-size="22" text-anchor="end" fill="#8b8783">5.500,00</text>
<text transform="translate(2491.70,182.60) scale(1,1.04)" font-size="22" text-anchor="end" fill="#8b8783">5.000,00</text>
<text transform="translate(2491.70,272.80) scale(1,1.04)" font-size="22" text-anchor="end" fill="#8b8783">4.500,00</text>
<text transform="translate(2491.70,374.20) scale(1,1.04)" font-size="22" text-anchor="end" fill="#8b8783">4.000,00</text>
<text transform="translate(2491.70,429.50) scale(1,1.04)" font-size="22" text-anchor="end" fill="#8b8783">3.750,00</text>
<text transform="translate(2491.70,488.40) scale(1,1.04)" font-size="22" text-anchor="end" fill="#8b8783">3.500,00</text>
<text transform="translate(2491.70,552.50) scale(1,1.04)" font-size="22" text-anchor="end" fill="#8b8783">3.250,00</text>
<text transform="translate(2491.70,621.20) scale(1,1.04)" font-size="22" text-anchor="end" fill="#8b8783">3.000,00</text>
<text transform="translate(2491.70,696.00) scale(1,1.04)" font-size="22" text-anchor="end" fill="#8b8783">2.750,00</text>
<text transform="translate(2491.70,777.80) scale(1,1.04)" font-size="22" text-anchor="end" fill="#8b8783">2.500,00</text>
<text transform="translate(2491.70,868.30) scale(1,1.04)" font-size="22" text-anchor="end" fill="#8b8783">2.250,00</text>
</g>
<g fill="#000">
<rect x="2498" y="18" width="2" height="2"/>
<rect x="2498" y="94" width="2" height="2"/>
<rect x="2498" y="175" width="2" height="2"/>
<rect x="2498" y="265" width="2" height="2"/>
<rect x="2498" y="367" width="2" height="2"/>
<rect x="2498" y="422" width="2" height="2"/>
<rect x="2498" y="481" width="2" height="2"/>
<rect x="2498" y="545" width="2" height="2"/>
<rect x="2498" y="614" width="2" height="2"/>
<rect x="2498" y="688" width="2" height="2"/>
<rect x="2498" y="770" width="2" height="2"/>
<rect x="2498" y="861" width="2" height="2"/>
</g>
<path d="M2500 143.6H2402.3L2387.4 161.2L2402.3 178.8H2500Z" fill="#22ff33"/>
<g font-family="'Liberation Sans', Arial, Helvetica, sans-serif"><text transform="translate(2491.80,168.85) scale(1,1.04)" font-size="22" text-anchor="end" fill="#000">5.092,15</text></g>
<g font-family="'Liberation Sans', Arial, Helvetica, sans-serif">
<text transform="translate(34.90,926.60) scale(1,1.04)" font-size="22" text-anchor="middle" fill="#8b8783">Jul</text>
<text transform="translate(277.80,926.60) scale(1,1.04)" font-size="22" text-anchor="middle" fill="#8b8783">Okt</text>
<text transform="translate(519.45,926.60) scale(1,1.04)" font-size="22" text-anchor="middle" fill="#8b8783">Jan &#39;25</text>
<text transform="translate(751.70,926.60) scale(1,1.04)" font-size="22" text-anchor="middle" fill="#8b8783">Apr</text>
<text transform="translate(989.80,926.60) scale(1,1.04)" font-size="22" text-anchor="middle" fill="#8b8783">Jul</text>
<text transform="translate(1232.40,926.60) scale(1,1.04)" font-size="22" text-anchor="middle" fill="#8b8783">Okt</text>
<text transform="translate(1473.70,926.60) scale(1,1.04)" font-size="22" text-anchor="middle" fill="#8b8783">Jan &#39;26</text>
</g>
<rect x="0" y="900" width="26.3" height="32" fill="#fff"/>
<circle cx="13.6" cy="925.7" r="4.8" fill="#ffc84a"/>
<g fill="#000">
<rect x="32.6" y="932.3" width="2" height="3.7"/>
<rect x="278.2" y="932.3" width="2" height="3.7"/>
<rect x="517.4" y="932.3" width="2" height="3.7"/>
<rect x="751.8" y="932.3" width="2" height="3.7"/>
<rect x="987.5" y="932.3" width="2" height="3.7"/>
<rect x="1232.3" y="932.3" width="2" height="3.7"/>
<rect x="1471.8" y="932.3" width="2" height="3.7"/>
</g>
<g font-family="'Liberation Sans', Arial, Helvetica, sans-serif" font-size="26" font-weight="bold" text-anchor="middle" clip-path="url(#cl)"><text x="12.60" y="806.85" fill="#1133ff">IV</text><text x="23.80" y="860.00" fill="#1133ff">4</text><text x="23.70" y="854.80" fill="#ff1144">c</text><text x="23.70" y="847.10" fill="#1133ff">V</text><text x="357.20" y="637.35" fill="#ff9922">III</text><text x="397.60" y="790.10" fill="#ff9922">IV</text><text x="423.00" y="681.35" fill="#1133ff">1</text><text x="486.05" y="786.65" fill="#1133ff">2</text><text x="805.10" y="442.20" fill="#1133ff">3</text><text x="867.10" y="618.95" fill="#1133ff">4</text><text x="922.35" y="489.80" fill="#449eff">1</text><text x="1066.35" y="569.25" fill="#449eff">2</text><text x="1080.80" y="489.65" fill="#9922ff">1</text><text x="1121.75" y="552.75" fill="#9922ff">2</text><text x="1282.25" y="254.20" fill="#9922ff">3</text><text x="1469.75" y="338.95" fill="#9922ff">4</text><text x="1480.45" y="230.05" fill="#1133ff">1</text><text x="1488.45" y="300.35" fill="#1133ff">2</text><text x="1502.50" y="222.45" fill="#ff33cc">1</text><text x="1532.70" y="143.70" fill="#ff33cc">3</text><text x="1558.40" y="374.00" fill="#000000">Gold</text><text x="1362.90" y="499.15" fill="#ff33cc">4</text><text x="1396.45" y="500.80" fill="#ff33cc">5</text><text x="1330.20" y="538.00" fill="#449eff">3</text><text x="1362.90" y="535.95" fill="#449eff">4</text><text x="1396.45" y="534.20" fill="#9922ff">5</text><text x="1396.45" y="563.40" fill="#449eff">5</text><text x="1396.40" y="592.95" fill="#ff9922">V</text><text x="1462.55" y="591.60" fill="#27802f">Alt III</text></g>
</svg></body></html>
